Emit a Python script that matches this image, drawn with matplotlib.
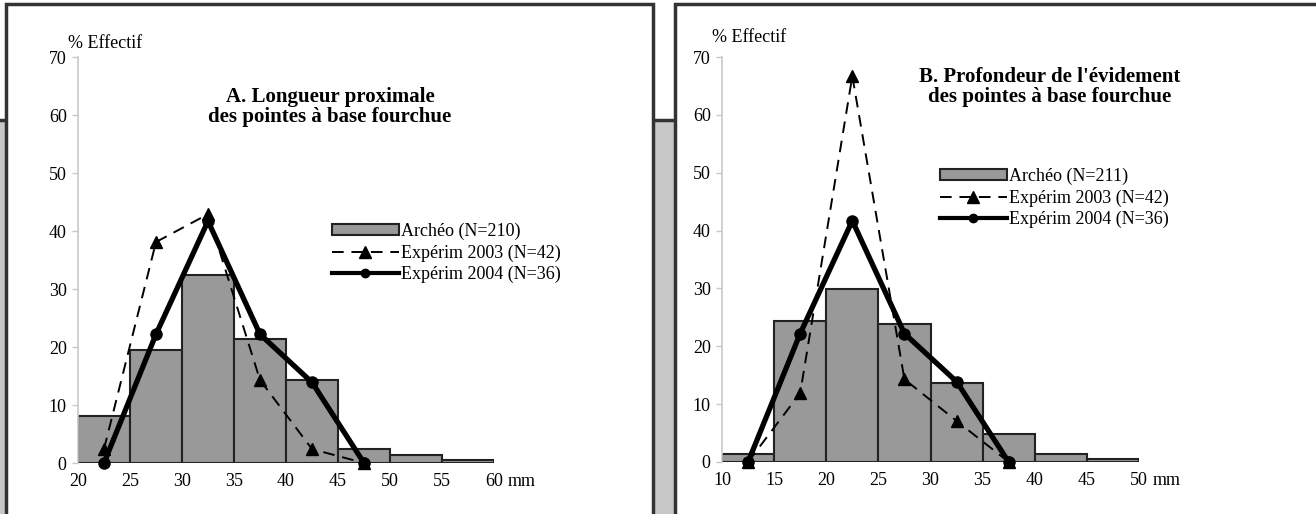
import matplotlib
matplotlib.use("Agg")
import matplotlib.pyplot as plt
from matplotlib.patches import Rectangle, Patch
from matplotlib.lines import Line2D
import numpy as np

plt.rcParams['font.family'] = ['Liberation Serif', 'DejaVu Serif']

# ---------------- data ----------------
# Panel A : Longueur proximale
a_bin_edges = [20, 25, 30, 35, 40, 45, 50, 55, 60]
a_archeo = [8.1, 19.5, 32.4, 21.4, 14.3, 2.4, 1.4, 0.5]
a_mid = [22.5, 27.5, 32.5, 37.5, 42.5, 47.5]
a_exp2003 = [2.4, 38.1, 42.9, 14.3, 2.4, 0.0]
a_exp2004 = [0.0, 22.2, 41.7, 22.2, 13.9, 0.0]
a_xticks = [20, 25, 30, 35, 40, 45, 50, 55, 60]
a_title = "A. Longueur proximale\ndes pointes à base fourchue"
a_labels = ["Archéo (N=210)", "Expérim 2003 (N=42)", "Expérim 2004 (N=36)"]

# Panel B : Profondeur de l'évidement
b_bin_edges = [10, 15, 20, 25, 30, 35, 40, 45, 50]
b_archeo = [1.4, 24.3, 29.9, 23.8, 13.7, 4.8, 1.4, 0.5]
b_mid = [12.5, 17.5, 22.5, 27.5, 32.5, 37.5]
b_exp2003 = [0.0, 11.9, 66.7, 14.3, 7.1, 0.0]
b_exp2004 = [0.0, 22.2, 41.7, 22.2, 13.9, 0.0]
b_xticks = [10, 15, 20, 25, 30, 35, 40, 45, 50]
b_title = "B. Profondeur de l'évidement\ndes pointes à base fourchue"
b_labels = ["Archéo (N=211)", "Expérim 2003 (N=42)", "Expérim 2004 (N=36)"]

yticks = [0, 10, 20, 30, 40, 50, 60, 70]

# ---------------- figure ----------------
W, H = 1316, 514
fig = plt.figure(figsize=(W / 100, H / 100), dpi=100)
fig.patch.set_facecolor('white')

def fx(x):
    return x / W

def fy(y):
    return 1 - y / H

frame_col = '#333333'
# gray band behind the boxes
fig.patches.append(Rectangle((fx(-10), fy(530)), fx(W + 20), (530 - 120) / H,
                             transform=fig.transFigure, facecolor='#c8c8c8',
                             edgecolor=frame_col, lw=2.5, zorder=-10))
# white boxes
fig.patches.append(Rectangle((fx(6), fy(530)), fx(653 - 6), (530 - 4) / H,
                             transform=fig.transFigure, facecolor='white',
                             edgecolor=frame_col, lw=2.5, zorder=-9))
fig.patches.append(Rectangle((fx(675), fy(530)), fx(W + 20 - 675), (530 - 4) / H,
                             transform=fig.transFigure, facecolor='white',
                             edgecolor=frame_col, lw=2.5, zorder=-9))

FS = 13
XPAD = 7

def panel(rect, edges, archeo, mid, e03, e04, xticks, title, title_xy,
          labels, leg_xy, ylab_xy):
    ax = fig.add_axes(rect)
    ax.set_facecolor('none')
    lefts = edges[:-1]
    widths = np.diff(edges)
    ax.bar(lefts, archeo, width=widths, align='edge', color='#999999',
           edgecolor='#222222', linewidth=1.5, zorder=2)
    ax.plot(mid, e03, color='black', lw=1.4, dashes=(6, 4), marker='^',
            markersize=9, zorder=3, clip_on=False)
    ax.plot(mid, e04, color='black', lw=3.8, marker='o', markersize=8,
            zorder=4, clip_on=False)
    ax.set_xlim(edges[0], edges[-1])
    ax.set_ylim(0, 70)
    ax.set_yticks(yticks)
    ax.set_xticks(xticks)
    ax.set_xticklabels([str(t) for t in xticks])
    for s in ['top', 'right', 'bottom']:
        ax.spines[s].set_visible(False)
    ax.spines['left'].set_color('#c8c8c8')
    ax.spines['left'].set_linewidth(1.2)
    ax.tick_params(axis='y', direction='out', length=4.5, width=1,
                   color='#c8c8c8', labelsize=FS, pad=3.6)
    ax.tick_params(axis='x', length=0, labelsize=FS, pad=XPAD)
    ax.annotate("mm", xy=(edges[-1], 0), xycoords='data',
                xytext=(10, -XPAD), textcoords='offset points',
                fontsize=FS, ha='left', va='top')
    fig.text(fx(title_xy[0]), fy(title_xy[1]), title, fontsize=15,
             fontweight='bold', ha='center', va='center', linespacing=1.0)
    fig.text(fx(ylab_xy[0]), fy(ylab_xy[1]), "% Effectif", fontsize=FS,
             ha='left', va='center')
    handles = [Patch(facecolor='#999999', edgecolor='#222222', linewidth=1.5),
               Line2D([], [], color='black', lw=1.4, dashes=(6, 4), marker='^',
                      markersize=8),
               Line2D([], [], color='black', lw=3.0, marker='o', markersize=6)]
    fig.legend(handles, labels, loc='upper left',
               bbox_to_anchor=(fx(leg_xy[0]), fy(leg_xy[1])),
               frameon=False, fontsize=FS, handlelength=3.7,
               handleheight=0.55, handletextpad=0.1, labelspacing=0.22,
               borderpad=0, borderaxespad=0)
    return ax

panel([fx(78), fy(463), fx(494 - 78), (463 - 57) / H],
      a_bin_edges, a_archeo, a_mid, a_exp2003, a_exp2004, a_xticks,
      a_title, (330, 107), a_labels, (332, 223), (68, 43))

panel([fx(722), fy(462), fx(1139 - 722), (462 - 57) / H],
      b_bin_edges, b_archeo, b_mid, b_exp2003, b_exp2004, b_xticks,
      b_title, (1050, 87), b_labels, (940, 168), (712, 37))

fig.savefig("out.png", dpi=100)
